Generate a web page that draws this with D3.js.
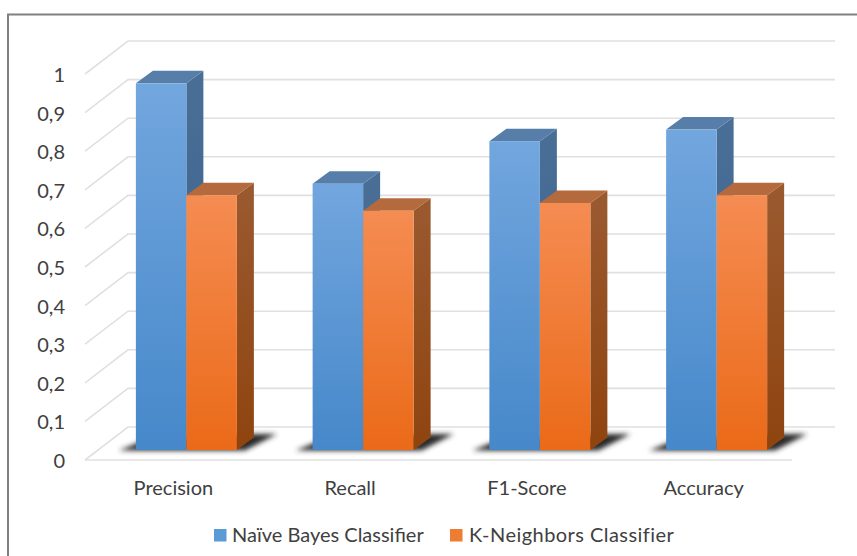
<!DOCTYPE html>
<html>
<head>
<meta charset="utf-8">
<script src="https://cdnjs.cloudflare.com/ajax/libs/d3/7.8.5/d3.min.js"></script>
<style>
  html, body { margin: 0; padding: 0; background: #fff; }
  svg { display: block; }
  text { font-family: Lato, "Noto Sans", sans-serif; fill: #404040; }
</style>
</head>
<body>
<svg id="chart" width="857" height="556"></svg>
<script>
const categories = ["Precision", "Recall", "F1-Score", "Accuracy"];
const seriesNames = ["Naïve Bayes Classifier", "K-Neighbors Classifier"];
const naiveBayes = [0.95, 0.69, 0.80, 0.83];
const kNeighbors = [0.66, 0.62, 0.64, 0.66];
const yTicks = [0, 0.1, 0.2, 0.3, 0.4, 0.5, 0.6, 0.7, 0.8, 0.9, 1];

const svg = d3.select("#chart");
const defs = svg.append("defs");

// Front plane of the 3D box and the offset to its back wall
const x = d3.scaleBand().domain(categories).range([85, 792]);
const y = d3.scaleLinear().domain([0, 1]).range([460, 74]);
const wall = { dx: 43, dy: -33 };

// Bars stand part-way back on the floor and have their own depth
const floor = { dx: 13, dy: -10 };
const depth = { dx: 17, dy: -12.5 };
const bar = d3.scaleBand().domain([0, 1]).range([0, 101]);
const barLeft = c => x(c) + (x.bandwidth() - 101) / 2 + floor.dx;

const palette = [
  { front: ["#72a6de", "#4688ca"], side: ["#4a6f97", "#365f8a"], top: "#567ea9", key: "#5b9bd5" },
  { front: ["#f58c52", "#ea6a18"], side: ["#9a5a30", "#8f440f"], top: "#b56a3d", key: "#ed7d31" }
];

function gradient(id, stops) {
  const g = defs.append("linearGradient").attr("id", id)
    .attr("x1", 0).attr("y1", 0).attr("x2", 0).attr("y2", 1);
  g.append("stop").attr("offset", 0).attr("stop-color", stops[0]);
  g.append("stop").attr("offset", 1).attr("stop-color", stops[1]);
}
palette.forEach((p, i) => {
  gradient("front" + i, p.front);
  gradient("side" + i, p.side);
});
defs.append("filter").attr("id", "soft")
  .attr("x", "-20%").attr("y", "-60%").attr("width", "140%").attr("height", "220%")
  .append("feGaussianBlur").attr("stdDeviation", 2.6);

// Outer frame: only the left and top edges are visible
svg.append("path")
  .attr("d", "M8,556V14.5H857")
  .attr("fill", "none").attr("stroke", "#808080").attr("stroke-width", 2);

// Gridlines run across the left side wall and along the back wall
const grid = svg.append("g").attr("fill", "none").attr("stroke", "#e0e0e0").attr("stroke-width", 1.6);
grid.selectAll("path").data(yTicks).join("path")
  .attr("d", t => d3.line()([
    [x.range()[0], y(t)],
    [x.range()[0] + wall.dx, y(t) + wall.dy],
    [x.range()[1] + wall.dx, y(t) + wall.dy]
  ]));
grid.append("line")
  .attr("x1", x.range()[0]).attr("x2", x.range()[1])
  .attr("y1", y(0)).attr("y2", y(0));

// Soft contact shadow under each bar pair
const shadows = svg.append("g").attr("filter", "url(#soft)");
shadows.selectAll("path").data(categories).join("path")
  .attr("fill", "#2a2a2a")
  .attr("d", c => {
    const l = barLeft(c), r = l + 101, b = y(0) + floor.dy;
    return d3.line()([
      [l - 17, b + 0.5], [r + 8, b + 0.5],
      [r + 40, b - 16], [r + 10, b - 16], [l + 4, b - 8]
    ]);
  });

// Bars: side and top faces first, then the front face
const rows = categories.map((c, i) => [
  { c, s: 0, v: naiveBayes[i] },
  { c, s: 1, v: kNeighbors[i] }
]).flat();

const bars = svg.append("g").selectAll("g").data(rows).join("g");
const base = () => y(0) + floor.dy;
const topY = d => y(d.v) + floor.dy;
const lx = d => barLeft(d.c) + bar(d.s);
const rx = d => lx(d) + bar.bandwidth();

bars.append("path")
  .attr("fill", d => `url(#side${d.s})`)
  .attr("d", d => d3.line()([
    [rx(d), topY(d)], [rx(d) + depth.dx, topY(d) + depth.dy],
    [rx(d) + depth.dx, base() + depth.dy], [rx(d), base()]
  ]) + "Z");
bars.append("path")
  .attr("fill", d => palette[d.s].top)
  .attr("d", d => d3.line()([
    [lx(d), topY(d)], [lx(d) + depth.dx, topY(d) + depth.dy],
    [rx(d) + depth.dx, topY(d) + depth.dy], [rx(d), topY(d)]
  ]) + "Z");
bars.append("rect")
  .attr("x", lx)
  .attr("y", topY)
  .attr("width", bar.bandwidth())
  .attr("height", d => base() - topY(d))
  .attr("fill", d => `url(#front${d.s})`);

// Axes: labels only, the gridlines above carry the rules
const yAxis = d3.axisLeft(y).tickValues(yTicks).tickSize(0).tickPadding(0)
  .tickFormat(t => String(t).replace(".", ","));
const yG = svg.append("g").attr("transform", "translate(65,1)").call(yAxis);
yG.select(".domain").remove();
yG.selectAll("text").attr("font-size", 20);

const xAxis = d3.axisBottom(x).tickSize(0).tickPadding(0);
const xG = svg.append("g").attr("transform", "translate(0,481)").call(xAxis);
xG.select(".domain").remove();
xG.selectAll("text").attr("font-size", 20).attr("dy", "0.71em");
svg.selectAll(".tick text").attr("font-family", "Lato");

// Legend
const legendX = [214, 450];
const legend = svg.append("g").selectAll("g").data(seriesNames).join("g")
  .attr("transform", (d, i) => `translate(${legendX[i]},529)`);
legend.append("rect")
  .attr("width", 12.5).attr("height", 12.5)
  .attr("fill", (d, i) => palette[i].key);
legend.append("text")
  .attr("x", (d, i) => [18, 19][i]).attr("y", 13)
  .attr("font-size", 20)
  .attr("letter-spacing", (d, i) => [0, 0.45][i])
  .text(d => d);
</script>
</body>
</html>
